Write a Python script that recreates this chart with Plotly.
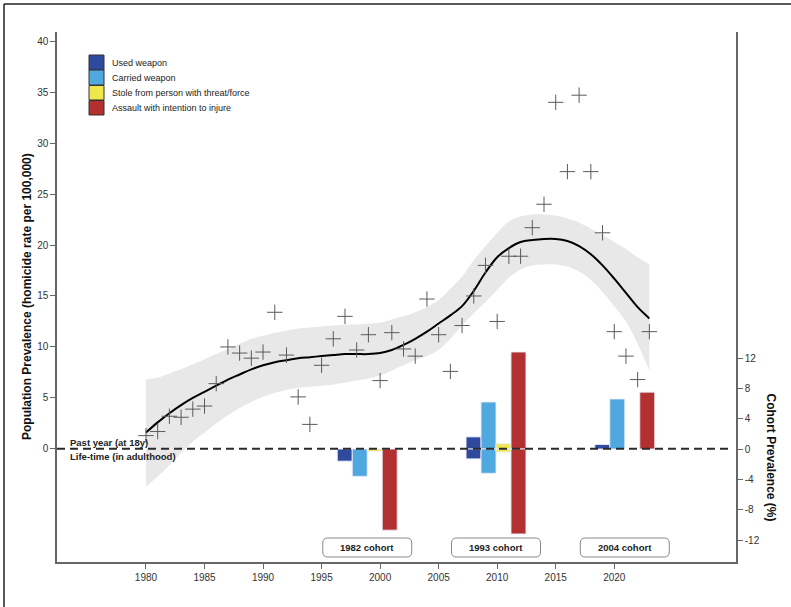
import plotly.graph_objects as go

# ---------------- data ----------------
years = list(range(1980, 2024))
homicide_rate = [1.3, 1.7, 3.2, 3.1, 3.9, 4.2, 6.4, 10.0, 9.4, 8.9,
                 9.5, 13.4, 9.2, 5.1, 2.4, 8.2, 10.8, 13.0, 9.7, 11.2,
                 6.7, 11.4, 9.8, 9.1, 14.7, 11.2, 7.6, 12.1, 15.0, 18.0,
                 12.5, 18.9, 18.9, 21.7, 24.0, 34.0, 27.2, 34.7, 27.2, 21.2,
                 11.5, 9.1, 6.8, 11.5]
trend = [1.6, 2.6, 3.5, 4.3, 5.0, 5.6, 6.2, 6.8, 7.3, 7.8,
         8.2, 8.5, 8.7, 8.9, 9.0, 9.1, 9.2, 9.3, 9.3, 9.3,
         9.4, 9.7, 10.2, 10.8, 11.5, 12.3, 13.1, 14.0, 15.5, 17.3,
         18.8, 19.7, 20.3, 20.5, 20.6, 20.6, 20.4, 19.9, 19.1, 18.0,
         16.7, 15.3, 13.9, 12.8]
ci_upper = [6.8, 7.0, 7.4, 7.8, 8.3, 8.8, 9.3, 9.8, 10.3, 10.8,
            11.1, 11.4, 11.6, 11.8, 11.9, 12.0, 12.1, 12.2, 12.2, 12.3,
            12.4, 12.7, 13.0, 13.4, 13.9, 14.6, 15.7, 16.9, 18.5, 19.9,
            21.2, 22.3, 22.8, 23.0, 23.0, 22.9, 22.6, 22.2, 21.6, 21.0,
            20.3, 19.6, 18.8, 18.1]
ci_lower = [-3.7, -2.7, -1.6, -0.4, 0.7, 1.6, 2.5, 3.3, 4.0, 4.6,
            5.1, 5.5, 5.8, 6.0, 6.1, 6.2, 6.3, 6.5, 6.7, 6.9,
            7.2, 7.7, 8.2, 8.7, 9.1, 9.7, 10.8, 12.1, 13.3, 14.4,
            15.6, 16.8, 17.6, 18.0, 18.1, 18.1, 17.9, 17.4, 16.6, 15.4,
            14.0, 12.5, 10.3, 7.7]

cohorts = [1982, 1993, 2004]
cohort_labels = ["1982 cohort", "1993 cohort", "2004 cohort"]
categories = ["Used weapon", "Carried weapon",
              "Stole from person with threat/force", "Assault with intention to injure"]
colors = ["#2F4A9C", "#4FA9E0", "#EFE84C", "#B23030"]
# cohort prevalence (%) : past year at 18y (positive), life-time in adulthood (negative)
past_year = {
    "Used weapon": [None, 1.6, 0.6],
    "Carried weapon": [None, 6.2, 6.6],
    "Stole from person with threat/force": [None, 0.7, None],
    "Assault with intention to injure": [None, 12.8, 7.5],
}
life_time = {
    "Used weapon": [-1.6, -1.3, None],
    "Carried weapon": [-3.6, -3.2, None],
    "Stole from person with threat/force": [-0.3, -0.4, None],
    "Assault with intention to injure": [-10.7, -11.2, None],
}

x_ticks = [1980, 1985, 1990, 1995, 2000, 2005, 2010, 2015, 2020]
y_ticks = [0, 5, 10, 15, 20, 25, 30, 35, 40]
y2_ticks = [-12, -8, -4, 0, 4, 8, 12]

# ---------------- layout helpers ----------------
W, H = 791, 607
ML, MR, MT, MB = 57, 55, 32, 45
PW, PH = W - ML - MR, H - MT - MB
def px(xp):
    return (xp - ML) / PW
def py(yp):
    return (H - MB - yp) / PH

FONT = "Arial, 'Liberation Sans', sans-serif"
bar_center_offset = 16.9
bar_step = 1.28

fig = go.Figure()

# confidence band
fig.add_trace(go.Scatter(x=years, y=ci_lower, mode="lines", line=dict(width=0, shape="spline"),
                         hoverinfo="skip", showlegend=False))
fig.add_trace(go.Scatter(x=years, y=ci_upper, mode="lines", line=dict(width=0, shape="spline"),
                         fill="tonexty", fillcolor="#E8E8E8", hoverinfo="skip", showlegend=False))
# smooth trend
fig.add_trace(go.Scatter(x=years, y=trend, mode="lines", line=dict(color="black", width=2, shape="spline"),
                         showlegend=False))
# observed rates
fig.add_trace(go.Scatter(x=years, y=homicide_rate, mode="markers",
                         marker=dict(symbol="cross-thin", size=11, line=dict(width=1, color="#5a5a5a")),
                         showlegend=False))

# bars
for i, cat in enumerate(categories):
    xs = [c + bar_center_offset + (i - 1.5) * bar_step for c in cohorts]
    for vals in (past_year[cat], life_time[cat]):
        fig.add_trace(go.Bar(x=xs, y=vals, width=bar_step, yaxis="y2",
                             marker=dict(color=colors[i], line=dict(color="rgba(235,235,250,0.9)", width=1)),
                             name=cat, showlegend=False))

shapes = []
annotations = []

# zero dashed line
shapes.append(dict(type="line", xref="paper", yref="y", x0=0, x1=px(728), y0=0, y1=0,
                   line=dict(color="#2a2a2a", width=2, dash="8px,5px"), layer="above"))
annotations.append(dict(text="<b>Past year (at 18y)</b>", xref="paper", yref="paper",
                        x=px(68), y=py(442), xanchor="left", yanchor="middle", showarrow=False,
                        font=dict(size=9.5, color="#222", family=FONT)))
annotations.append(dict(text="<b>Life-time (in adulthood)</b>", xref="paper", yref="paper",
                        x=px(68), y=py(457), xanchor="left", yanchor="middle", showarrow=False,
                        font=dict(size=9.5, color="#222", family=FONT)))

# cohort label boxes (rounded)
half_w = 3.8
rx = 5 / (PW / (2030.4 - 1972.4))
y0b, y1b = py(557), py(538)
ry = 5 / PH
for c, lab in zip(cohorts, cohort_labels):
    xc = c + bar_center_offset
    x0, x1 = xc - half_w, xc + half_w
    path = (f"M {x0+rx},{y0b} L {x1-rx},{y0b} Q {x1},{y0b} {x1},{y0b+ry} "
            f"L {x1},{y1b-ry} Q {x1},{y1b} {x1-rx},{y1b} L {x0+rx},{y1b} "
            f"Q {x0},{y1b} {x0},{y1b-ry} L {x0},{y0b+ry} Q {x0},{y0b} {x0+rx},{y0b} Z")
    shapes.append(dict(type="path", xref="x", yref="paper", path=path,
                       line=dict(color="#8a8a8a", width=1), fillcolor="white", layer="above"))
    annotations.append(dict(text=f"<b>{lab}</b>", xref="x", yref="paper", x=xc, y=(y0b + y1b) / 2,
                            xanchor="center", yanchor="middle", showarrow=False,
                            font=dict(size=9.5, color="#222", family=FONT)))

# manual legend
leg_rows = [(55, 70), (70, 85), (85.5, 100), (100.5, 115)]
for i, cat in enumerate(categories):
    t, b = leg_rows[i]
    shapes.append(dict(type="rect", xref="paper", yref="paper", x0=px(89), x1=px(104),
                       y0=py(b), y1=py(t), fillcolor=colors[i], line=dict(color="#333", width=1)))
    annotations.append(dict(text=cat, xref="paper", yref="paper", x=px(110), y=py((t + b) / 2),
                            xanchor="left", yanchor="middle", showarrow=False,
                            font=dict(size=9, color="#222", family=FONT)))

# axis titles
annotations.append(dict(text="<b>Population Prevalence (homicide rate per 100,000)</b>",
                        xref="paper", yref="paper", x=px(27), y=0.5, textangle=-90,
                        xanchor="center", yanchor="middle", showarrow=False,
                        font=dict(size=12, color="#111", family=FONT)))
annotations.append(dict(text="<b>Cohort Prevalence (%)</b>",
                        xref="paper", yref="paper", x=px(771), y=py(457.5), textangle=90,
                        xanchor="center", yanchor="middle", showarrow=False,
                        font=dict(size=12, color="#111", family=FONT)))

# outer frame (top and left)
shapes.append(dict(type="line", xref="paper", yref="paper", x0=px(4), x1=px(791), y0=py(4), y1=py(4),
                   line=dict(color="#222", width=1.5)))
shapes.append(dict(type="line", xref="paper", yref="paper", x0=px(4), x1=px(4), y0=py(607), y1=py(4),
                   line=dict(color="#222", width=1.5)))

axis_common = dict(showgrid=False, zeroline=False, showline=True, linecolor="#666", linewidth=1.5,
                   ticks="outside", ticklen=5, tickcolor="#666",
                   tickfont=dict(size=10, color="#333", family=FONT))

fig.update_layout(
    width=W, height=H,
    margin=dict(l=ML, r=MR, t=MT, b=MB, autoexpand=False),
    paper_bgcolor="white", plot_bgcolor="white",
    barmode="overlay", showlegend=False,
    font=dict(family=FONT),
    xaxis=dict(range=[1972.4, 2030.4], tickvals=x_ticks, ticktext=[str(v) for v in x_ticks], **axis_common),
    yaxis=dict(range=[-11.1, 40.9], tickvals=y_ticks, ticktext=[str(v) for v in y_ticks], **axis_common),
    yaxis2=dict(range=[-14.9, 55.0], overlaying="y", side="right", tickvals=y2_ticks,
                ticktext=[str(v) for v in y2_ticks], **axis_common),
    shapes=shapes, annotations=annotations,
)

fig.write_html("out.html", config={"displayModeBar": False},
               post_script="document.body.style.margin='0';document.body.style.overflow='hidden';")
